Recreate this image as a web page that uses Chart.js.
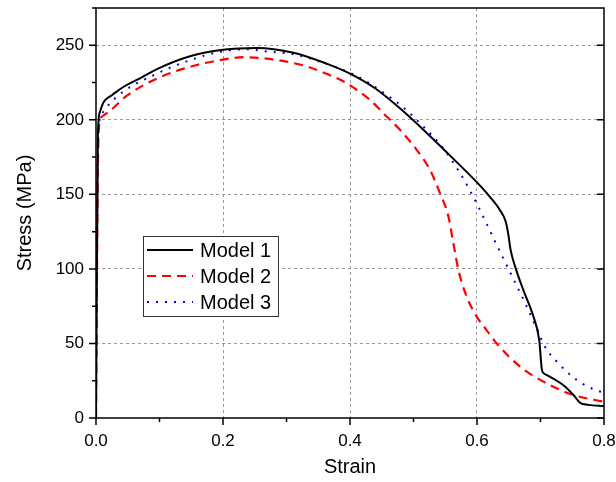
<!DOCTYPE html>
<html>
<head>
<meta charset="utf-8">
<script src="https://cdn.jsdelivr.net/npm/chart.js@4"></script>
<style>
  body { margin: 0; background: #fff; }
  #wrap { width: 616px; height: 482px; position: relative; }
</style>
</head>
<body>
<div id="wrap"><canvas id="chart"></canvas></div>
<script>
const xTicks = [0, 0.2, 0.4, 0.6, 0.8];
const yTicks = [0, 50, 100, 150, 200, 250];

const labels = ['Model 1', 'Model 2', 'Model 3'];

const strain1 = [0, 0.003, 0.006, 0.010, 0.014, 0.025, 0.043, 0.07, 0.096, 0.148, 0.2, 0.253, 0.311, 0.363, 0.4, 0.44, 0.48, 0.52, 0.56, 0.6, 0.62, 0.636, 0.645, 0.649, 0.653, 0.662, 0.673, 0.689, 0.698, 0.702, 0.705, 0.710, 0.736, 0.752, 0.762, 0.775, 0.8];
const stress1 = [0, 190, 205, 210, 213, 216.5, 222, 228, 234, 242.6, 247, 248.2, 245, 237.7, 231, 221, 207.2, 191.5, 175, 158, 148.5, 139.5, 132, 124, 112.6, 99, 85.8, 67.9, 52.3, 33, 30, 28.8, 22, 15.4, 10.3, 8.8, 8];

const strain2 = [0, 0.003, 0.006, 0.012, 0.022, 0.048, 0.096, 0.148, 0.2, 0.235, 0.265, 0.3, 0.332, 0.362, 0.39, 0.4315, 0.4524, 0.4787, 0.505, 0.526, 0.5417, 0.555, 0.5628, 0.5707, 0.5838, 0.5995, 0.615, 0.631, 0.668, 0.710, 0.752, 0.8];
const stress2 = [0, 170, 198.6, 203, 206, 216, 227.7, 235.5, 240.4, 242, 241.2, 239, 235.8, 231, 225.7, 213.4, 204.5, 193.3, 179.9, 166.4, 150.8, 135.1, 117.2, 99.3, 81.4, 68, 59, 50, 34.4, 23.2, 15.4, 10.9];

const strain3 = [0, 0.002, 0.005, 0.009, 0.017, 0.04, 0.096, 0.148, 0.2, 0.24, 0.266, 0.311, 0.353, 0.41, 0.45, 0.487, 0.518, 0.548, 0.574, 0.589, 0.602, 0.616, 0.629, 0.657, 0.676, 0.694, 0.707, 0.726, 0.757, 0.786, 0.8];
const stress3 = [0, 150, 198, 204, 208.6, 218, 231, 240, 246, 247.3, 246, 244, 239, 229.5, 219, 207.2, 194.4, 180.3, 163.8, 152.5, 141.8, 129.5, 117.9, 93.5, 76.9, 60, 47.8, 37.7, 25.5, 18.8, 17];

const FONT = 'Liberation Sans, Arial, sans-serif';

function toPoints(xs, ys) {
  return xs.map((x, i) => ({ x: x, y: ys[i] }));
}

// frame, tick marks (major + minor) and the boxed legend
const framePlugin = {
  id: 'frame',
  afterDraw(chart) {
    const { ctx, chartArea: a, scales } = chart;
    const x = scales.x, y = scales.y;
    ctx.save();
    ctx.strokeStyle = '#000';
    ctx.lineWidth = 1.5;
    ctx.strokeRect(a.left, a.top, a.right - a.left, a.bottom - a.top);

    ctx.beginPath();
    xTicks.forEach((v, i) => {
      const px = x.getPixelForValue(v);
      ctx.moveTo(px, a.bottom); ctx.lineTo(px, a.bottom + 7);
      if (i < xTicks.length - 1) {
        const mx = x.getPixelForValue((v + xTicks[i + 1]) / 2);
        ctx.moveTo(mx, a.bottom); ctx.lineTo(mx, a.bottom + 4);
      }
    });
    yTicks.forEach((v, i) => {
      const py = y.getPixelForValue(v);
      ctx.moveTo(a.left, py); ctx.lineTo(a.left - 7, py);
      ctx.moveTo(a.right, py); ctx.lineTo(a.right - 7, py);
      const next = i < yTicks.length - 1 ? yTicks[i + 1] : v + 50;
      const my = y.getPixelForValue((v + next) / 2);
      ctx.moveTo(a.left, my); ctx.lineTo(a.left - 4, my);
    });
    ctx.stroke();

    // legend
    const bx = 143, by = 236, bw = 135, bh = 80;
    ctx.fillStyle = '#fff';
    ctx.fillRect(bx, by, bw, bh);
    ctx.lineWidth = 1;
    ctx.strokeStyle = '#333';
    ctx.strokeRect(bx + 0.5, by + 0.5, bw, bh);
    ctx.font = '20px ' + FONT;
    ctx.textBaseline = 'middle';
    chart.data.datasets.forEach((ds, i) => {
      const ly = by + 14 + i * 26;
      ctx.beginPath();
      ctx.strokeStyle = ds.borderColor;
      ctx.lineWidth = ds.borderWidth;
      ctx.setLineDash(ds.borderDash || []);
      ctx.moveTo(bx + 4, ly);
      ctx.lineTo(bx + 50, ly);
      ctx.stroke();
      ctx.setLineDash([]);
      ctx.fillStyle = '#000';
      ctx.fillText(ds.label, bx + 57, ly + 1);
    });
    ctx.restore();
  }
};

new Chart(document.getElementById('chart').getContext('2d'), {
  type: 'scatter',
  data: {
    datasets: [
      {
        label: labels[0],
        data: toPoints(strain1, stress1),
        borderColor: '#000000',
        borderWidth: 2,
      },
      {
        label: labels[1],
        data: toPoints(strain2, stress2),
        borderColor: '#ff0000',
        borderWidth: 2.2,
        borderDash: [9, 6],
      },
      {
        label: labels[2],
        data: toPoints(strain3, stress3),
        borderColor: '#0000ff',
        borderWidth: 2,
        borderDash: [2, 7],
      },
    ],
  },
  options: {
    responsive: true,
    maintainAspectRatio: false,
    animation: false,
    showLine: true,
    elements: {
      point: { radius: 0, hoverRadius: 0 },
      line: { cubicInterpolationMode: 'monotone', fill: false },
    },
    layout: { padding: { left: 0, top: 8, right: 12, bottom: 0 } },
    plugins: {
      legend: { display: false },
      tooltip: { enabled: false },
    },
    scales: {
      x: {
        type: 'linear',
        min: 0,
        max: 0.8,
        afterFit: (s) => { s.height = 64; s.paddingLeft = 0; s.paddingRight = 0; },
        afterBuildTicks: (s) => { s.ticks = xTicks.map((v) => ({ value: v })); },
        ticks: {
          padding: 13,
          color: '#000',
          font: { family: FONT, size: 17 },
          callback: (v) => Number(v).toFixed(1),
        },
        grid: {
          drawTicks: false,
          color: (c) => (c.tick && (c.tick.value === 0 || c.tick.value === 0.8) ? 'rgba(0,0,0,0)' : '#999'),
        },
        border: { display: false, dash: [3, 3] },
        title: {
          display: true,
          text: 'Strain',
          color: '#000',
          font: { family: FONT, size: 20 },
          padding: { top: 0, bottom: 3 },
        },
      },
      y: {
        type: 'linear',
        min: 0,
        max: 275,
        afterFit: (s) => { s.width = 96; s.paddingTop = 0; s.paddingBottom = 0; },
        afterBuildTicks: (s) => { s.ticks = yTicks.map((v) => ({ value: v })); },
        ticks: {
          padding: 12,
          color: '#000',
          font: { family: FONT, size: 17 },
        },
        grid: {
          drawTicks: false,
          color: (c) => (c.tick && c.tick.value === 0 ? 'rgba(0,0,0,0)' : '#999'),
        },
        border: { display: false, dash: [3, 3] },
        title: {
          display: true,
          text: 'Stress (MPa)',
          color: '#000',
          font: { family: FONT, size: 20 },
          padding: { top: 13, bottom: 0 },
        },
      },
    },
  },
  plugins: [framePlugin],
});
</script>
</body>
</html>
